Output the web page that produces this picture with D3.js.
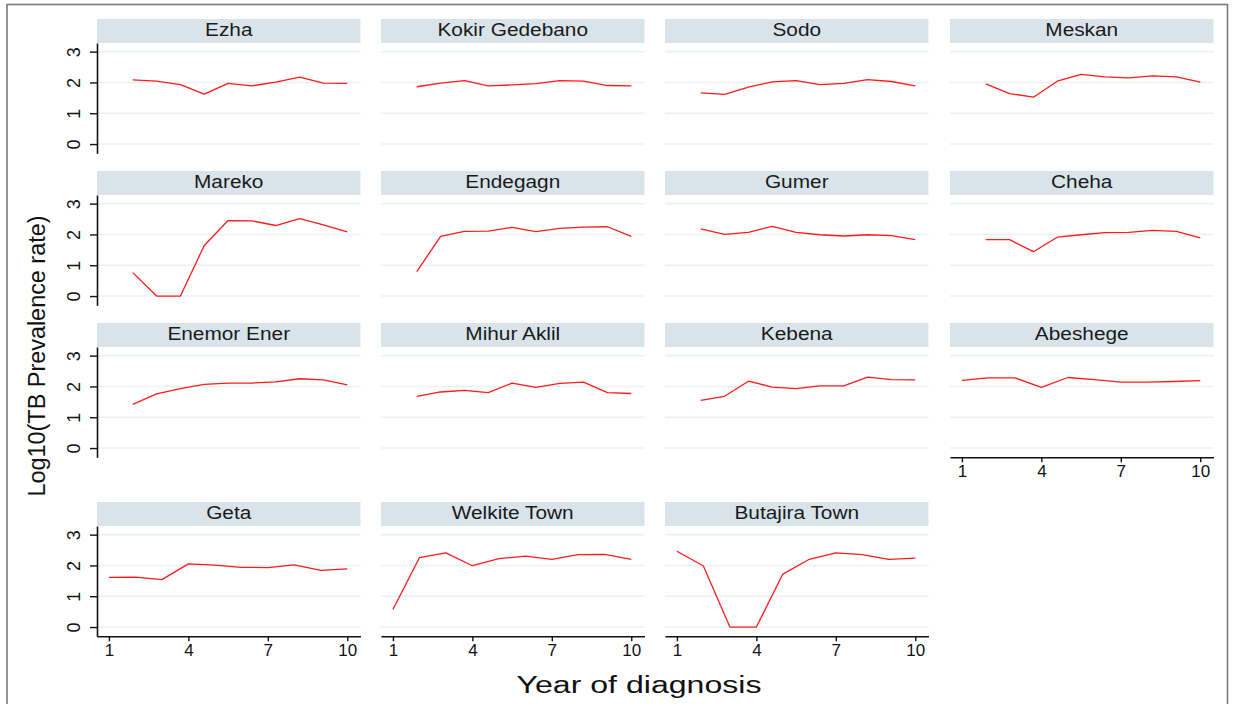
<!DOCTYPE html>
<html>
<head>
<meta charset="utf-8">
<script src="https://cdn.jsdelivr.net/npm/d3@7"></script>
<style>
  html, body { margin: 0; padding: 0; background: #fff; }
  svg { display: block; font-family: "Liberation Sans", Arial, sans-serif; }
</style>
</head>
<body>
<svg id="chart" width="1239" height="704"></svg>
<script>
// ---- data ----
const districts = ["Ezha", "Kokir Gedebano", "Sodo", "Meskan",
                   "Mareko", "Endegagn", "Gumer", "Cheha",
                   "Enemor Ener", "Mihur Aklil", "Kebena", "Abeshege",
                   "Geta", "Welkite Town", "Butajira Town"];
// x positions of points as drawn in the panels
const yearsShifted = [1.9, 2.8, 3.7, 4.6, 5.5, 6.4, 7.3, 8.2, 9.1, 10.0];
const yearsWhole   = [1, 2, 3, 4, 5, 6, 7, 8, 9, 10];
const xTickLabels = [1, 4, 7, 10];
const yTickLabels = [0, 1, 2, 3];

const ezha          = [2.08, 2.04, 1.93, 1.62, 1.97, 1.89, 2.01, 2.17, 1.98, 1.97];
const kokirGedebano = [1.86, 1.98, 2.06, 1.89, 1.92, 1.96, 2.06, 2.04, 1.90, 1.89];
const sodo          = [1.66, 1.61, 1.85, 2.02, 2.06, 1.93, 1.97, 2.09, 2.03, 1.89];
const meskan        = [1.95, 1.64, 1.52, 2.04, 2.26, 2.18, 2.15, 2.21, 2.18, 2.01];
const mareko        = [0.76, 0.00, 0.00, 1.64, 2.45, 2.44, 2.29, 2.51, 2.31, 2.08];
const endegagn      = [0.79, 1.94, 2.10, 2.11, 2.23, 2.09, 2.20, 2.24, 2.25, 1.94];
const gumer         = [2.18, 2.00, 2.07, 2.26, 2.07, 1.99, 1.95, 1.99, 1.96, 1.83];
const cheha         = [1.83, 1.83, 1.44, 1.91, 1.99, 2.06, 2.07, 2.13, 2.10, 1.89];
const enemorEner    = [1.42, 1.76, 1.93, 2.07, 2.11, 2.11, 2.15, 2.25, 2.21, 2.05];
const mihurAklil    = [1.68, 1.82, 1.87, 1.80, 2.11, 1.97, 2.10, 2.14, 1.80, 1.77];
const kebena        = [1.55, 1.68, 2.17, 1.98, 1.93, 2.02, 2.02, 2.30, 2.22, 2.21];
const abeshege      = [2.20, 2.28, 2.28, 1.97, 2.29, 2.22, 2.14, 2.14, 2.16, 2.19];
const geta          = [1.61, 1.62, 1.54, 2.05, 2.01, 1.94, 1.93, 2.02, 1.84, 1.89];
const welkiteTown   = [0.57, 2.25, 2.41, 1.99, 2.22, 2.30, 2.20, 2.35, 2.36, 2.20];
const butajiraTown  = [2.46, 1.98, 0.00, 0.00, 1.72, 2.20, 2.41, 2.35, 2.20, 2.24];

const seriesValues = [ezha, kokirGedebano, sodo, meskan,
                      mareko, endegagn, gumer, cheha,
                      enemorEner, mihurAklil, kebena, abeshege,
                      geta, welkiteTown, butajiraTown];
const seriesYears = [yearsShifted, yearsShifted, yearsShifted, yearsShifted,
                     yearsShifted, yearsShifted, yearsShifted, yearsShifted,
                     yearsShifted, yearsShifted, yearsShifted, yearsWhole,
                     yearsWhole, yearsWhole, yearsWhole];
// panels that carry an x axis
const withXAxis = ["Abeshege", "Geta", "Welkite Town", "Butajira Town"];

// ---- layout ----
const svg = d3.select("#chart");
const colX = [97, 381, 665, 950];
const rowY = [19, 171, 323, 502];
const panelW = 263.5, stripH = 24, plotH = 110.3;
const fontFam = '"Liberation Sans", Arial, sans-serif';

// outer frame
svg.append("rect").attr("x", 7).attr("y", 4.5).attr("width", 1220.5).attr("height", 710)
  .attr("fill", "none").attr("stroke", "#7a7a7a").attr("stroke-width", 1.6);

const x = d3.scaleLinear().domain([0.55, 10.5]).range([0, panelW]);
const y = d3.scaleLinear().domain([-0.3, 3.28]).range([plotH, 0]);

function stretch(sel, factor) {
  sel.each(function () {
    const len = this.getComputedTextLength();
    d3.select(this).attr("textLength", len * factor).attr("lengthAdjust", "spacingAndGlyphs");
  });
}

districts.forEach((name, i) => {
  const c = i % 4, r = Math.floor(i / 4);
  const g = svg.append("g").attr("transform", `translate(${colX[c]},${rowY[r]})`);

  // strip
  g.append("rect").attr("x", 0).attr("y", 0).attr("width", panelW).attr("height", stripH)
    .attr("fill", "#d8e4ea");
  const t = g.append("text").attr("x", panelW / 2).attr("y", 17)
    .attr("text-anchor", "middle").attr("font-size", 17.5).attr("fill", "#1a1a1a")
    .text(name);
  stretch(t, 1.19);

  const p = g.append("g").attr("transform", `translate(0,${stripH})`);

  // gridlines
  p.selectAll("line.grid").data(yTickLabels).join("line")
    .attr("x1", 0).attr("x2", panelW)
    .attr("y1", d => y(d)).attr("y2", d => y(d))
    .attr("stroke", "#eaf1f3").attr("stroke-width", 1.6);

  // series line
  const pts = seriesYears[i].map((yr, k) => [yr, seriesValues[i][k]]);
  p.append("path").datum(pts)
    .attr("d", d3.line().x(d => x(d[0])).y(d => y(d[1])))
    .attr("fill", "none").attr("stroke", "#ff1a1a").attr("stroke-width", 1.3)
    .attr("stroke-linejoin", "round");

  // y axis on first column
  if (c === 0) {
    const ya = p.append("g").call(d3.axisLeft(y).tickValues(yTickLabels).tickSize(7).tickSizeOuter(0).tickFormat(d3.format("d")));
    ya.select(".domain").attr("stroke", "#111").attr("stroke-width", 1.6);
    ya.selectAll(".tick line").attr("stroke", "#111").attr("stroke-width", 1.4);
    ya.selectAll(".tick text")
      .attr("x", 0).attr("dy", 0).attr("y", 0)
      .attr("text-anchor", "middle")
      .attr("transform", "translate(-24,0) rotate(-90) translate(0,6.5)")
      .attr("font-size", 18).attr("font-family", fontFam).attr("fill", "#111");
  }

  // x axis
  if (withXAxis.includes(name)) {
    const xa = p.append("g").attr("transform", `translate(0,${plotH})`)
      .call(d3.axisBottom(x).tickValues(xTickLabels).tickSize(5).tickSizeOuter(0).tickFormat(d3.format("d")));
    xa.select(".domain").attr("stroke", "#111").attr("stroke-width", 1.6);
    xa.selectAll(".tick line").attr("stroke", "#111").attr("stroke-width", 1.4);
    xa.selectAll(".tick text").attr("y", 8).attr("dy", "0.71em")
      .attr("font-size", 17).attr("font-family", fontFam).attr("fill", "#111");
  }
});

// axis titles
const xt = svg.append("text").attr("x", 639).attr("y", 693).attr("text-anchor", "middle")
  .attr("font-size", 23).attr("fill", "#111").text("Year of diagnosis");
xt.attr("textLength", 245).attr("lengthAdjust", "spacingAndGlyphs");

svg.append("text").attr("transform", "translate(45,356) rotate(-90)")
  .attr("text-anchor", "middle").attr("font-size", 23.5).attr("fill", "#111")
  .attr("textLength", 281).attr("lengthAdjust", "spacingAndGlyphs")
  .text("Log10(TB Prevalence rate)");
</script>
</body>
</html>
